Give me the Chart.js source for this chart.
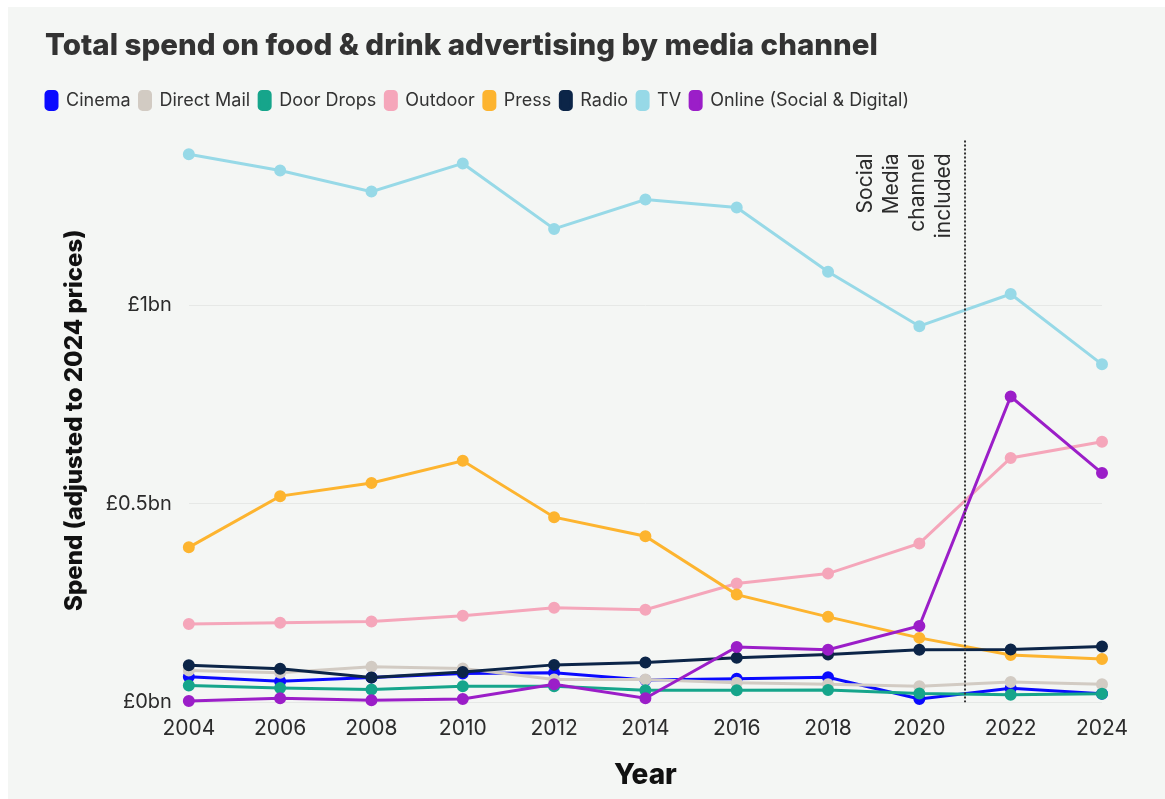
<!DOCTYPE html>
<html>
<head>
<meta charset="utf-8">
<script src="https://cdn.jsdelivr.net/npm/chart.js@4.4.1/dist/chart.umd.min.js"></script>
<style>
  html, body { margin: 0; padding: 0; background: #ffffff; }
  #wrap {
    position: absolute; left: 8px; top: 7px;
    width: 1157px; height: 792px;
    background: #f4f6f4;
  }
</style>
</head>
<body>
<div id="wrap"><canvas id="chart"></canvas></div>
<script>
// years sampled every two years
const years = [2004, 2006, 2008, 2010, 2012, 2014, 2016, 2018, 2020, 2022, 2024];

// spend in £bn, adjusted to 2024 prices
const cinema     = [0.064, 0.053, 0.062, 0.072, 0.074, 0.056, 0.059, 0.063, 0.008, 0.035, 0.021];
const directMail = [0.080, 0.074, 0.089, 0.085, 0.057, 0.057, 0.049, 0.045, 0.040, 0.051, 0.045];
const doorDrops  = [0.042, 0.036, 0.032, 0.040, 0.040, 0.030, 0.030, 0.031, 0.022, 0.019, 0.021];
const outdoor    = [0.197, 0.200, 0.203, 0.218, 0.238, 0.233, 0.299, 0.324, 0.400, 0.615, 0.656];
const press      = [0.390, 0.519, 0.552, 0.608, 0.466, 0.418, 0.271, 0.215, 0.162, 0.119, 0.109];
const radio      = [0.093, 0.084, 0.062, 0.076, 0.094, 0.100, 0.112, 0.120, 0.132, 0.133, 0.140];
const tv         = [1.380, 1.339, 1.286, 1.357, 1.192, 1.266, 1.246, 1.084, 0.947, 1.028, 0.851];
const online     = [0.003, 0.010, 0.005, 0.008, 0.045, 0.010, 0.139, 0.132, 0.192, 0.770, 0.577];

const channels = ['Cinema', 'Direct Mail', 'Door Drops', 'Outdoor', 'Press', 'Radio', 'TV', 'Online (Social & Digital)'];
const series = [cinema, directMail, doorDrops, outdoor, press, radio, tv, online];
const colors = ['#0a0aff', '#d2cbc3', '#16a58b', '#f5a6ba', '#fdb42f', '#0c2548', '#97d9e7', '#9b1ec8'];

const yTicks = [0, 0.5, 1];
const socialYear = 2021;
const socialNote = ['Social', 'Media', 'channel', 'included'];

const FONT = 'Inter, "Noto Sans", sans-serif';
const INK = '#2b2b2b';

// dotted marker + rotated note where the social channel starts
const socialMarker = {
  id: 'socialMarker',
  afterDatasetsDraw(chart) {
    const { ctx, chartArea, scales } = chart;
    const x = scales.x.getPixelForValue(socialYear);
    ctx.save();
    ctx.strokeStyle = '#333';
    ctx.lineWidth = 2;
    ctx.setLineDash([2, 2]);
    ctx.beginPath();
    ctx.moveTo(x, chartArea.top + 2);
    ctx.lineTo(x, chartArea.bottom);
    ctx.stroke();
    ctx.setLineDash([]);
    ctx.fillStyle = INK;
    ctx.font = '21px ' + FONT;
    ctx.textAlign = 'right';
    ctx.textBaseline = 'middle';
    socialNote.forEach((line, i) => {
      const lx = x - 21 - (socialNote.length - 1 - i) * 26;
      ctx.save();
      ctx.translate(lx, chartArea.top + 15);
      ctx.rotate(-Math.PI / 2);
      ctx.fillText(line, 0, 0);
      ctx.restore();
    });
    ctx.restore();
  }
};

// legend row: extra gap underneath, pulled flush with the title
const legendTweak = {
  id: 'legendTweak',
  beforeInit(chart) {
    const fit = chart.legend.fit;
    chart.legend.fit = function () {
      fit.call(this);
      this.height += 19;
    };
  },
  afterLayout(chart) {
    chart.legend.left -= 8;
  }
};

const datasets = channels.map((name, i) => ({
  label: name,
  data: years.map((yr, j) => ({ x: yr, y: series[i][j] })),
  borderColor: colors[i],
  backgroundColor: colors[i],
  borderWidth: 3,
  pointRadius: 4.5,
  pointHoverRadius: 5,
  order: -i,
  clip: false
}));

new Chart(document.getElementById('chart'), {
  type: 'line',
  data: { datasets },
  options: {
    responsive: true,
    maintainAspectRatio: false,
    animation: false,
    layout: { padding: { left: 37, right: 63, top: 0, bottom: 3 } },
    plugins: {
      title: {
        display: true,
        text: 'Total spend on food & drink advertising by media channel',
        align: 'start',
        color: '#333',
        font: { family: FONT, size: 29.5, weight: '800' },
        padding: { top: 21, bottom: 19 }
      },
      legend: {
        align: 'start',
        labels: {
          sort: (a, b) => a.datasetIndex - b.datasetIndex,
          color: '#333',
          font: { family: FONT, size: 18 },
          boxWidth: 11,
          boxHeight: 18,
          useBorderRadius: true,
          borderRadius: 3,
          padding: 9
        }
      },
      tooltip: { enabled: false }
    },
    scales: {
      x: {
        type: 'linear',
        min: 2004,
        max: 2024,
        ticks: {
          stepSize: 2,
          color: INK,
          font: { family: FONT, size: 21 },
          padding: 6,
          callback: v => String(v)
        },
        grid: { display: false },
        border: { display: false },
        title: {
          display: true,
          text: 'Year',
          color: '#111',
          font: { family: FONT, size: 28, weight: '800' },
          padding: { top: 11 }
        }
      },
      y: {
        min: 0,
        max: 1.42,
        afterBuildTicks: axis => { axis.ticks = yTicks.map(v => ({ value: v })); },
        ticks: {
          color: INK,
          font: { family: FONT, size: 20 },
          padding: 17,
          callback: v => '£' + v + 'bn'
        },
        grid: { color: '#e6e8e6', lineWidth: 1, drawTicks: false },
        border: { display: false },
        title: {
          display: true,
          text: 'Spend (adjusted to 2024 prices)',
          color: '#111',
          font: { family: FONT, size: 24, weight: '800' },
          padding: { top: 15, bottom: 0 }
        }
      }
    }
  },
  plugins: [socialMarker, legendTweak]
});
</script>
</body>
</html>
